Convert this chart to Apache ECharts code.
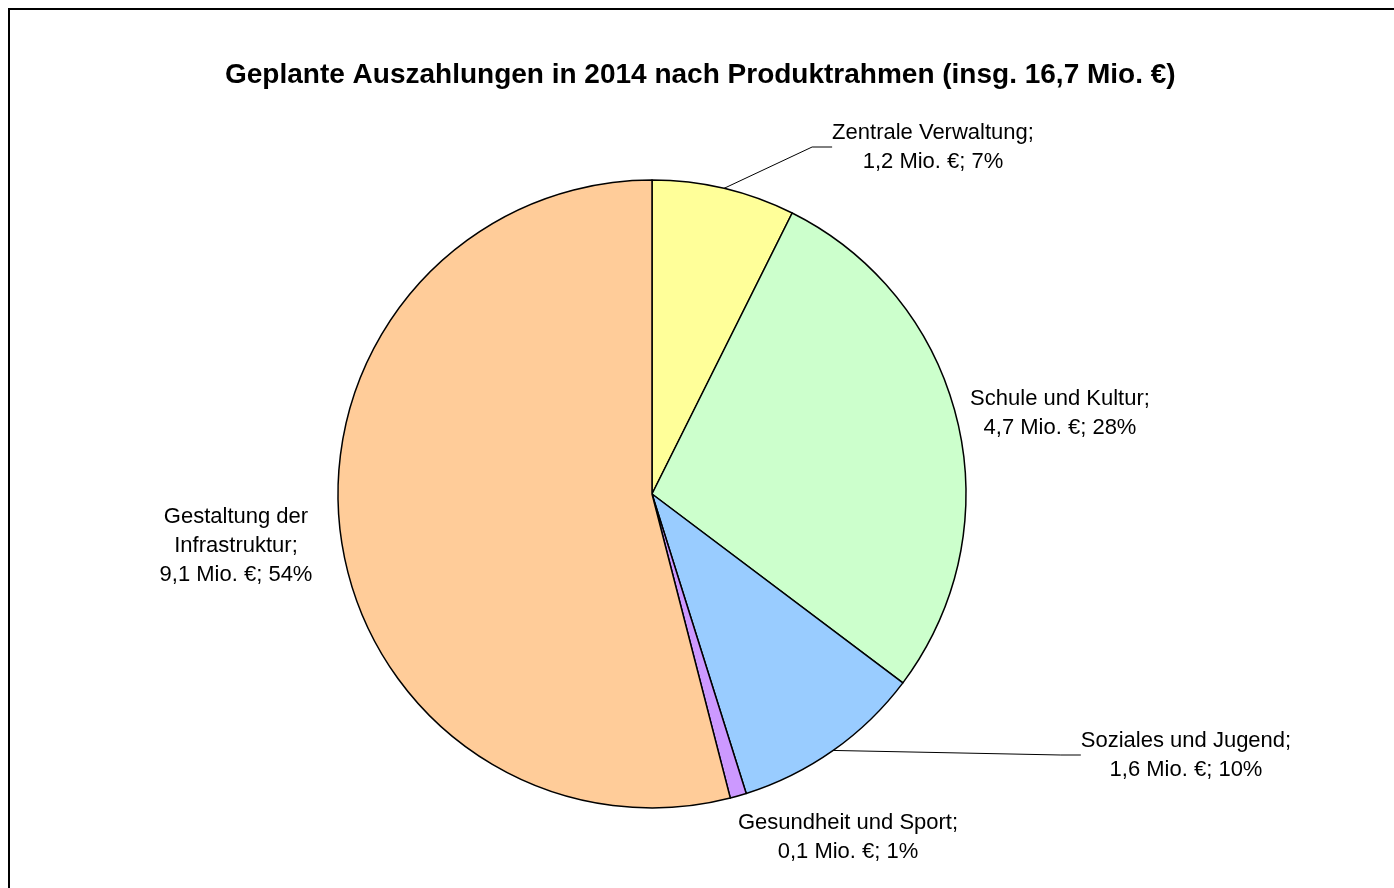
<!DOCTYPE html>
<html>
<head>
    <meta charset="utf-8">
    <title>Geplante Auszahlungen 2014</title>
    <script type="text/javascript" src="https://cdn.jsdelivr.net/npm/echarts@6/dist/echarts.min.js"></script>
    <style>
        html, body { margin: 0; padding: 0; background: #fff; }
    </style>
</head>
<body>
    <div id="main" style="width: 1394px;height:888px;"></div>
    <script type="text/javascript">
        // Produktrahmen, Werte in Mio. EUR
        var names = ['Zentrale Verwaltung', 'Schule und Kultur', 'Soziales und Jugend', 'Gesundheit und Sport', 'Gestaltung der\nInfrastruktur'];
        var values = [1.23, 4.66, 1.65, 0.14, 9.02];
        var amountLabels = ['1,2', '4,7', '1,6', '0,1', '9,1'];
        var percentLabels = ['7%', '28%', '10%', '1%', '54%'];
        var colors = ['#FFFF99', '#CCFFCC', '#99CCFF', '#CC99FF', '#FFCC99'];

        // Lage der Beschriftungen (Mittelpunkt des Textblocks)
        var labelPos = [[933, 147], [1060, 413], [1186, 755], [848, 837], [236, 546]];
        var showLine = [true, false, true, false, false];

        var myChart = echarts.init(document.getElementById('main'));

        var data = names.map(function (n, i) {
            return {
                name: n,
                value: values[i],
                itemStyle: { color: colors[i] },
                labelLine: { show: showLine[i] }
            };
        });

        var option = {
            backgroundColor: '#fff',
            animation: false,
            title: {
                text: 'Geplante Auszahlungen in 2014 nach Produktrahmen (insg. 16,7 Mio. €)',
                left: 220,
                top: 56,
                textStyle: {
                    fontFamily: 'Liberation Sans',
                    fontSize: 28,
                    fontWeight: 'bold',
                    color: '#000'
                }
            },
            graphic: [{
                type: 'rect',
                shape: { x: 9, y: 9, width: 1400, height: 900 },
                style: { fill: 'none', stroke: '#000', lineWidth: 2 },
                silent: true
            }],
            series: [{
                type: 'pie',
                center: [652, 494],
                radius: 314,
                startAngle: 90,
                clockwise: true,
                data: data,
                itemStyle: { borderColor: '#000', borderWidth: 1.5 },
                label: {
                    show: true,
                    position: 'outside',
                    fontFamily: 'Liberation Sans',
                    fontSize: 22,
                    lineHeight: 29,
                    color: '#000',
                    align: 'center',
                    formatter: function (p) {
                        var i = p.dataIndex;
                        return p.name + ';\n' + amountLabels[i] + ' Mio. €; ' + percentLabels[i];
                    }
                },
                labelLine: {
                    show: true,
                    length: 20,
                    length2: 20,
                    lineStyle: { color: '#000', width: 1 }
                },
                labelLayout: function (params) {
                    var pos = labelPos[params.dataIndex];
                    return {
                        x: pos[0],
                        y: pos[1],
                        align: 'center',
                        verticalAlign: 'middle'
                    };
                }
            }]
        };

        myChart.setOption(option);
    </script>
</body>
</html>
